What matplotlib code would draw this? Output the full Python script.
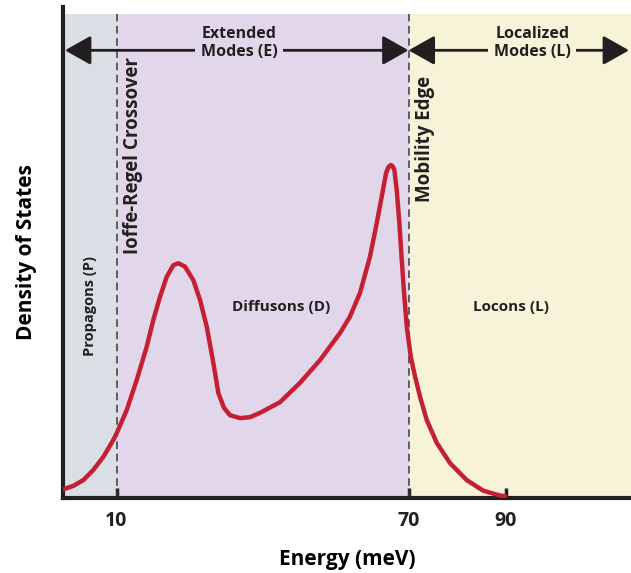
# Density of states sketch: propagons, diffusons, locons
import matplotlib
matplotlib.use('Agg')
import matplotlib.pyplot as plt

# Data (energy in meV, DOS in arbitrary units)
energy = [-0.93, 1.12, 3.18, 5.23, 7.29, 9.34, 10.04, 12.10, 14.15, 16.21,
          17.56, 18.94, 20.31, 21.67, 22.70, 24.07, 25.78, 27.16, 28.53, 29.89,
          30.92, 32.09, 33.32, 35.38, 37.43, 39.48, 43.59, 47.70, 51.81, 55.92,
          57.97, 60.03, 62.08, 63.46, 64.49, 65.37, 65.88, 66.34, 66.70, 67.08,
          67.57, 68.11, 68.60, 69.07, 69.63, 70.45, 71.33, 72.36, 73.74, 75.79,
          78.52, 81.95, 85.36, 88.80, 89.82]
dos = [0.018, 0.025, 0.037, 0.058, 0.085, 0.120, 0.134, 0.182, 0.244, 0.313,
       0.368, 0.416, 0.457, 0.481, 0.485, 0.478, 0.450, 0.409, 0.354, 0.279,
       0.217, 0.186, 0.171, 0.165, 0.167, 0.176, 0.198, 0.238, 0.285, 0.341,
       0.375, 0.424, 0.499, 0.568, 0.623, 0.671, 0.684, 0.688, 0.686, 0.678,
       0.636, 0.568, 0.492, 0.424, 0.354, 0.292, 0.251, 0.209, 0.161, 0.114,
       0.072, 0.037, 0.015, 0.005, 0.004]

tick_pos = [10, 70, 90]
tick_lab = ['10', '70', '90']
boundaries = [10, 70]

# Colours
c_prop = '#d9dfe5'
c_diff = '#e2d6ea'
c_loc = '#f7f3d8'
c_line = '#c41f33'
c_ink = '#231f20'

plt.rcParams['font.family'] = ['Open Sans', 'DejaVu Sans']
plt.rcParams['font.weight'] = 'bold'

fig = plt.figure(figsize=(6.31, 5.73), dpi=100)
W, H = 631, 573
ax = fig.add_axes([63 / W, 1 - 498 / H, (631 - 63) / W, (498 - 7) / H])

xmin, xmax = -1.0, 115.7
ymax = 1.0145
ax.set_xlim(xmin, xmax)
ax.set_ylim(0, ymax)
shade_top = 1.0 / ymax

# Background regions
ax.axvspan(xmin, boundaries[0], ymax=shade_top, color=c_prop, lw=0)
ax.axvspan(boundaries[0], boundaries[1], ymax=shade_top, color=c_diff, lw=0)
ax.axvspan(boundaries[1], xmax, ymax=shade_top, color=c_loc, lw=0)

# Dashed boundaries
for b in boundaries:
    ax.plot([b, b], [0, 1.0], color='#3a3a3a', lw=1.1, ls=(0, (5, 3)))

# DOS curve
ax.plot(energy, dos, color=c_line, lw=3.2, solid_capstyle='round',
        solid_joinstyle='round', zorder=5)

# Axes styling
for s in ['top', 'right']:
    ax.spines[s].set_visible(False)
for s in ['left', 'bottom']:
    ax.spines[s].set_linewidth(3)
    ax.spines[s].set_color(c_ink)
ax.set_yticks([])
ax.set_xticks(tick_pos)
ax.set_xticklabels(tick_lab, fontsize=14, fontweight='bold')
ax.tick_params(axis='x', direction='in', length=7, width=2.5, color=c_ink,
               pad=9, labelcolor=c_ink)
ax.set_xlabel('Energy (meV)', fontsize=15, fontweight='bold', labelpad=13)
ax.set_ylabel('Density of States', fontsize=15, fontweight='bold', labelpad=19)

# Mode arrows
y_arr = 0.925
arrow_kw = dict(arrowstyle='<|-|>,head_length=0.8,head_width=0.45',
                color=c_ink, lw=2, mutation_scale=20, shrinkA=0, shrinkB=0)
ax.annotate('', xy=(-0.6, y_arr), xytext=(70, y_arr), arrowprops=arrow_kw)
ax.annotate('', xy=(70, y_arr), xytext=(115.3, y_arr), arrowprops=arrow_kw)
ax.text(35.2, 0.94, 'Extended\nModes (E)', ha='center', va='center',
        fontsize=11.5, fontweight='bold', color=c_ink, linespacing=1.1,
        bbox=dict(facecolor=c_diff, edgecolor='none', pad=4), zorder=6)
ax.text(95.4, 0.94, 'Localized\nModes (L)', ha='center', va='center',
        fontsize=11.5, fontweight='bold', color=c_ink, linespacing=1.1,
        bbox=dict(facecolor=c_loc, edgecolor='none', pad=4), zorder=6)

# Region labels
ax.text(4.56, 0.397, 'Propagons (P)', rotation=90, ha='center', va='center',
        fontsize=10.5, fontweight='bold', color=c_ink)
ax.text(13.39, 0.707, 'Ioffe-Regel Crossover', rotation=90, ha='center',
        va='center', fontsize=13.5, fontweight='bold', color=c_ink)
ax.text(73.4, 0.742, 'Mobility Edge', rotation=90, ha='center', va='center',
        fontsize=13.5, fontweight='bold', color=c_ink)
ax.text(43.8, 0.395, 'Diffusons (D)', ha='center', va='center',
        fontsize=11, fontweight='bold', color=c_ink)
ax.text(91.0, 0.395, 'Locons (L)', ha='center', va='center',
        fontsize=11, fontweight='bold', color=c_ink)

fig.savefig('out.png', dpi=100)
